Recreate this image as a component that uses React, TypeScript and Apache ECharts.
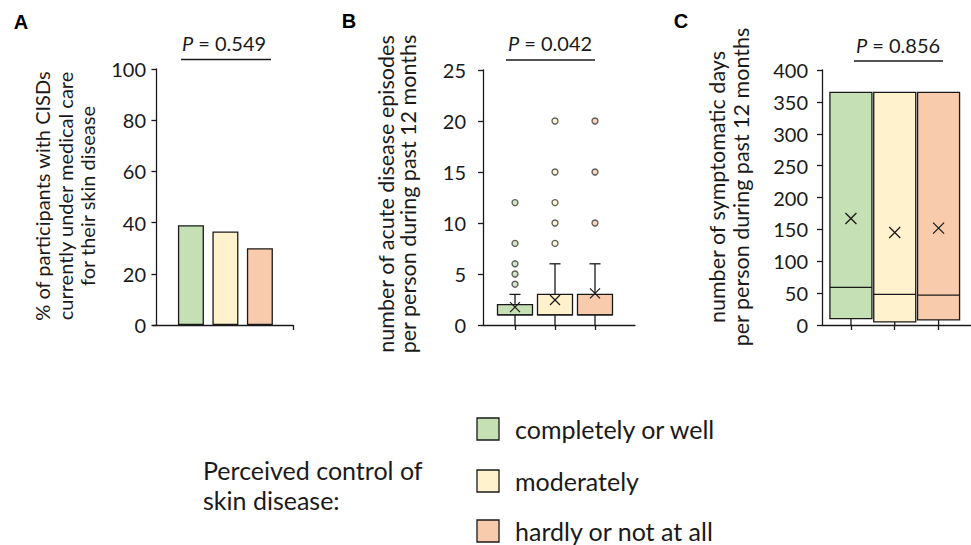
import React, { useEffect, useRef } from "react";
import * as echarts from "echarts";

const groups = ["completely or well", "moderately", "hardly or not at all"];
const groupColors = ["#C5E0B4", "#FFF2CC", "#F8CBAD"];
const groupX = [1, 2, 3];

// Panel A: % under medical care
const careShare = [39, 36.5, 30];
const pValueA = "0.549";

// Panel B: acute episodes, [min, Q1, median, Q3, max, mean]
const episodesBox = [
  [0, 1, 1, 2, 3, 1.75],
  [0, 1, 1, 3, 6, 2.45],
  [0, 1, 1, 3, 6, 3.1],
];
const episodesOutliers = [
  [4, 5, 6, 8, 12],
  [8, 10, 12, 15, 20],
  [10, 15, 20],
];
const pValueB = "0.042";

// Panel C: symptomatic days, [min, Q1, median, Q3, max, mean]
const daysBox = [
  [0, 10, 59, 365, 365, 167],
  [0, 5, 48, 365, 365, 145],
  [0, 8, 47, 365, 365, 152],
];
const pValueC = "0.856";

const yNameA = ["% of participants with CISDs", "currently under medical care", "for their skin disease"];
const yNameB = ["number of acute disease episodes", "per person during past 12 months"];
const yNameC = ["number of symptomatic days", "per person during past 12 months"];
const legendTitle = ["Perceived control of", "skin disease:"];

const FONT = "Lato";
const INK = "#1a1a1a";
const LEGEND_SIZE = 25;

function boxRenderer(boxWidth: number, capWidth: number, cross: number) {
  return (params: any, api: any) => {
    const x = api.value(0);
    const v = [1, 2, 3, 4, 5, 6].map((i) => api.value(i));
    const p = v.map((val) => api.coord([x, val]));
    const [pMin, pQ1, pMed, pQ3, pMax, pMean] = p;
    const cx = pMin[0];
    const color = groupColors[params.dataIndex];
    const st = { stroke: INK, lineWidth: 1.3, fill: "none" };
    const ch: any[] = [];
    if (v[0] < v[1]) {
      ch.push({ type: "line", shape: { x1: cx, y1: pMin[1], x2: cx, y2: pQ1[1] }, style: st });
    }
    if (v[4] > v[3]) {
      ch.push({ type: "line", shape: { x1: cx, y1: pMax[1], x2: cx, y2: pQ3[1] }, style: st });
      ch.push({ type: "line", shape: { x1: cx - capWidth / 2, y1: pMax[1], x2: cx + capWidth / 2, y2: pMax[1] }, style: st });
    }
    ch.push({
      type: "rect",
      shape: { x: cx - boxWidth / 2, y: pQ3[1], width: boxWidth, height: pQ1[1] - pQ3[1] },
      style: { fill: color, stroke: INK, lineWidth: 1.3 },
    });
    ch.push({ type: "line", shape: { x1: cx - boxWidth / 2, y1: pMed[1], x2: cx + boxWidth / 2, y2: pMed[1] }, style: st });
    const h = cross / 2;
    ch.push({ type: "line", shape: { x1: cx - h, y1: pMean[1] - h, x2: cx + h, y2: pMean[1] + h }, style: st });
    ch.push({ type: "line", shape: { x1: cx - h, y1: pMean[1] + h, x2: cx + h, y2: pMean[1] - h }, style: st });
    return { type: "group", children: ch };
  };
}

const axisCommon = {
  axisLine: { lineStyle: { color: INK, width: 1.3 } },
  axisTick: { lineStyle: { color: INK, width: 1.3 }, length: 5 },
  splitLine: { show: false },
};

function yAxis(gridIndex: number, max: number, interval: number, margin: number) {
  return {
    type: "value",
    gridIndex,
    min: 0,
    max,
    interval,
    ...axisCommon,
    axisLabel: { color: INK, fontSize: 20, fontFamily: FONT, margin },
  };
}

function xAxis(gridIndex: number, min: number, max: number, ticks: number[]) {
  return {
    type: "value",
    gridIndex,
    min,
    max,
    ...axisCommon,
    axisTick: { ...axisCommon.axisTick, customValues: ticks },
    axisLabel: { show: false },
  };
}

function vText(x: number, y: number, text: string, size: number) {
  return {
    type: "text",
    x,
    y,
    rotation: Math.PI / 2,
    style: { text, fontSize: size, fontFamily: FONT, fill: INK, align: "center", verticalAlign: "middle", textAlign: "center", textVerticalAlign: "middle" },
  };
}

function hText(x: number, y: number, text: string, size: number) {
  return {
    type: "text",
    x,
    y,
    style: { text, fontSize: size, fontFamily: FONT, fill: INK, align: "left", verticalAlign: "middle", textAlign: "left", textVerticalAlign: "middle" },
  };
}

function pLabel(cx: number, y: number, x1: number, x2: number, ly: number, pv: string) {
  return [
    {
      type: "text",
      x: cx,
      y,
      style: {
        text: "{i|P} = " + pv,
        fontSize: 20,
        fontFamily: FONT,
        fill: INK,
        align: "center",
        verticalAlign: "middle",
        textAlign: "center",
        textVerticalAlign: "middle",
        rich: { i: { fontStyle: "italic", fontSize: 20, fontFamily: FONT, fill: INK } },
      },
    },
    { type: "line", shape: { x1, y1: ly, x2, y2: ly }, style: { stroke: INK, lineWidth: 1.5 } },
  ];
}

function letter(x: number, y: number, t: string) {
  return {
    type: "text",
    x,
    y,
    style: { text: t, fontSize: 20, fontWeight: "bold", fontFamily: "Liberation Sans", fill: "#000", align: "center", verticalAlign: "middle", textAlign: "center", textVerticalAlign: "middle" },
  };
}

export default function App() {
  const ref = useRef<HTMLDivElement>(null);
  useEffect(() => {
    if (!ref.current) return;
    const chart = echarts.init(ref.current, undefined, { renderer: "svg" });

    const legendY = [429, 481, 531];
    const graphics: any[] = [
      letter(21, 22, "A"),
      letter(349, 21, "B"),
      letter(681, 21, "C"),
      ...yNameA.map((t, i) => vText([42, 65, 87][i], 196, t, 20)),
      ...yNameB.map((t, i) => vText([386, 408][i], 194, t, 21.5)),
      ...yNameC.map((t, i) => vText([717, 741][i], 187, t, 21.5)),
      ...pLabel(224, 43, 181, 271, 59.5, pValueA),
      ...pLabel(550, 43, 506, 595, 60, pValueB),
      ...pLabel(898, 45, 854, 943, 61, pValueC),
      ...legendTitle.map((t, i) => hText(203, [470, 500][i], t, LEGEND_SIZE)),
      ...groups.map((g, i) => ({
        type: "rect",
        shape: { x: 477, y: legendY[i] - 11, width: 22, height: 22 },
        style: { fill: groupColors[i], stroke: INK, lineWidth: 1.3 },
      })),
      ...groups.map((g, i) => hText(515, legendY[i], g, LEGEND_SIZE)),
    ];

    chart.setOption({
      animation: false,
      backgroundColor: "#fff",
      grid: [
        { left: 153, top: 69, width: 140, height: 256 },
        { left: 483, top: 70, width: 152, height: 255 },
        { left: 822, top: 70, width: 160, height: 255 },
      ],
      xAxis: [xAxis(0, -0.1, 3.96, [3.96]), xAxis(1, 0.2, 4.0, groupX), xAxis(2, 0.34, 3.74, groupX)],
      yAxis: [yAxis(0, 100, 20, 7), yAxis(1, 25, 5, 17), yAxis(2, 400, 50, 14)],
      series: [
        {
          type: "bar",
          xAxisIndex: 0,
          yAxisIndex: 0,
          barWidth: 26,
          data: careShare.map((v, i) => ({
            value: [groupX[i], v],
            itemStyle: { color: groupColors[i], borderColor: INK, borderWidth: 1.3 },
          })),
        },
        {
          type: "custom",
          xAxisIndex: 1,
          yAxisIndex: 1,
          renderItem: boxRenderer(35, 11, 10),
          data: episodesBox.map((b, i) => [groupX[i], ...b]),
          z: 2,
        },
        {
          type: "scatter",
          xAxisIndex: 1,
          yAxisIndex: 1,
          symbol: "circle",
          symbolSize: 6,
          data: episodesOutliers.flatMap((arr, i) =>
            arr.map((v) => ({ value: [groupX[i], v], itemStyle: { color: groupColors[i], borderColor: "#333", borderWidth: 1.3 } }))
          ),
          z: 3,
        },
        {
          type: "custom",
          xAxisIndex: 2,
          yAxisIndex: 2,
          renderItem: boxRenderer(42, 11, 11),
          data: daysBox.map((b, i) => [groupX[i], ...b]),
          z: 2,
        },
      ],
      graphic: graphics,
    });
    return () => chart.dispose();
  }, []);
  return <div ref={ref} style={{ position: "fixed", left: 0, top: 0, width: 971, height: 545 }} />;
}
